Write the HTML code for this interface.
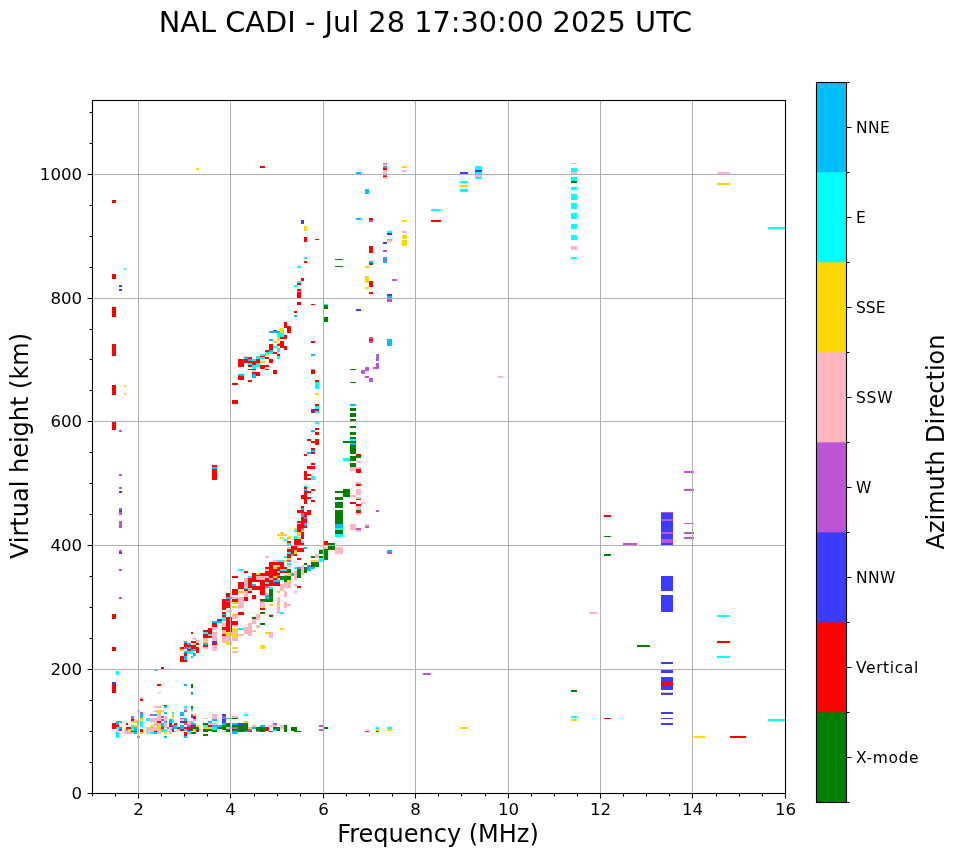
<!DOCTYPE html>
<html><head><meta charset="utf-8"><title>NAL CADI</title>
<style>html,body{margin:0;padding:0;background:#fff}</style></head>
<body>
<svg width="958" height="857" viewBox="0 0 958 857" style="display:block">
<rect width="958" height="857" fill="#fff"/>
<g id="pts">
<rect x="196" y="168" width="3" height="2" fill="#ffd700"/>
<rect x="260" y="166" width="5" height="2" fill="#ff0000"/>
<rect x="112" y="200" width="4" height="3" fill="#ff0000"/>
<rect x="124" y="268" width="2" height="2" fill="#00ffff"/>
<rect x="112" y="274" width="4" height="5" fill="#ff0000"/>
<rect x="119" y="285" width="3" height="2" fill="#3c3cff"/>
<rect x="119" y="289" width="3" height="2" fill="#3c3cff"/>
<rect x="112" y="307" width="4" height="10" fill="#ff0000"/>
<rect x="301" y="220" width="3" height="4" fill="#3c3cff"/>
<rect x="304" y="226" width="3" height="5" fill="#ffd700"/>
<rect x="304" y="237" width="3" height="5" fill="#ff0000"/>
<rect x="315" y="239" width="4" height="1" fill="#ff0000"/>
<rect x="304" y="257" width="3" height="2" fill="#00ffff"/>
<rect x="304" y="261" width="3" height="2" fill="#ff0000"/>
<rect x="297" y="266" width="4" height="2" fill="#00ffff"/>
<rect x="301" y="278" width="3" height="3" fill="#ff0000"/>
<rect x="297" y="281" width="4" height="2" fill="#00ffff"/>
<rect x="297" y="283" width="4" height="2" fill="#ff0000"/>
<rect x="294" y="285" width="3" height="2" fill="#00ffff"/>
<rect x="297" y="289" width="4" height="9" fill="#ff0000"/>
<rect x="297" y="291" width="4" height="1" fill="#00ffff"/>
<rect x="297" y="302" width="4" height="3" fill="#ff0000"/>
<rect x="311" y="304" width="4" height="1" fill="#ff0000"/>
<rect x="294" y="311" width="3" height="2" fill="#ff0000"/>
<rect x="324" y="304" width="4" height="1" fill="#00ffff"/>
<rect x="324" y="305" width="4" height="4" fill="#008000"/>
<rect x="356" y="172" width="5" height="2" fill="#00bfff"/>
<rect x="383" y="163" width="4" height="1" fill="#ba55d3"/>
<rect x="383" y="164" width="4" height="2" fill="#ffb6c1"/>
<rect x="383" y="166" width="4" height="2" fill="#00bfff"/>
<rect x="383" y="168" width="4" height="2" fill="#ff0000"/>
<rect x="383" y="170" width="4" height="5" fill="#ffb6c1"/>
<rect x="383" y="175" width="4" height="1" fill="#ba55d3"/>
<rect x="383" y="176" width="4" height="1" fill="#ff0000"/>
<rect x="383" y="177" width="4" height="2" fill="#ffb6c1"/>
<rect x="402" y="166" width="5" height="2" fill="#ffd700"/>
<rect x="402" y="170" width="5" height="2" fill="#ffb6c1"/>
<rect x="365" y="189" width="4" height="5" fill="#00bfff"/>
<rect x="356" y="218" width="5" height="2" fill="#00bfff"/>
<rect x="369" y="218" width="4" height="2" fill="#ff0000"/>
<rect x="369" y="220" width="4" height="2" fill="#ba55d3"/>
<rect x="402" y="220" width="5" height="2" fill="#ffd700"/>
<rect x="387" y="231" width="5" height="2" fill="#00ffff"/>
<rect x="387" y="233" width="5" height="2" fill="#3c3cff"/>
<rect x="387" y="239" width="5" height="1" fill="#00ffff"/>
<rect x="387" y="240" width="5" height="2" fill="#ffb6c1"/>
<rect x="383" y="242" width="4" height="2" fill="#3c3cff"/>
<rect x="402" y="231" width="5" height="2" fill="#ffb6c1"/>
<rect x="402" y="235" width="5" height="4" fill="#ffd700"/>
<rect x="402" y="240" width="5" height="6" fill="#ffd700"/>
<rect x="369" y="246" width="4" height="7" fill="#ff0000"/>
<rect x="383" y="250" width="4" height="2" fill="#ba55d3"/>
<rect x="383" y="257" width="4" height="2" fill="#00bfff"/>
<rect x="383" y="259" width="4" height="2" fill="#ba55d3"/>
<rect x="383" y="261" width="4" height="2" fill="#00bfff"/>
<rect x="369" y="261" width="4" height="2" fill="#00bfff"/>
<rect x="369" y="263" width="4" height="2" fill="#ff0000"/>
<rect x="365" y="266" width="4" height="2" fill="#ffd700"/>
<rect x="335" y="259" width="8" height="1" fill="#008000"/>
<rect x="335" y="266" width="8" height="1" fill="#008000"/>
<rect x="365" y="276" width="4" height="7" fill="#ffd700"/>
<rect x="369" y="281" width="4" height="6" fill="#ff0000"/>
<rect x="365" y="287" width="4" height="2" fill="#ffd700"/>
<rect x="369" y="292" width="4" height="2" fill="#ff0000"/>
<rect x="392" y="279" width="5" height="2" fill="#ba55d3"/>
<rect x="387" y="294" width="5" height="2" fill="#3c3cff"/>
<rect x="387" y="296" width="5" height="2" fill="#00bfff"/>
<rect x="387" y="298" width="5" height="4" fill="#ba55d3"/>
<rect x="356" y="309" width="5" height="2" fill="#3c3cff"/>
<rect x="431" y="209" width="10" height="2" fill="#00ffff"/>
<rect x="431" y="220" width="10" height="2" fill="#ff0000"/>
<rect x="460" y="172" width="8" height="2" fill="#3c3cff"/>
<rect x="460" y="181" width="8" height="2" fill="#00ffff"/>
<rect x="460" y="185" width="8" height="2" fill="#ffd700"/>
<rect x="460" y="189" width="8" height="3" fill="#00ffff"/>
<rect x="475" y="166" width="7" height="4" fill="#00ffff"/>
<rect x="475" y="170" width="7" height="2" fill="#3c3cff"/>
<rect x="475" y="172" width="7" height="2" fill="#00ffff"/>
<rect x="475" y="174" width="7" height="3" fill="#ffb6c1"/>
<rect x="475" y="177" width="7" height="2" fill="#00ffff"/>
<rect x="571" y="163" width="6" height="1" fill="#ffb6c1"/>
<rect x="571" y="168" width="6" height="4" fill="#00ffff"/>
<rect x="571" y="172" width="6" height="2" fill="#ffb6c1"/>
<rect x="571" y="177" width="6" height="4" fill="#00ffff"/>
<rect x="571" y="181" width="6" height="2" fill="#008000"/>
<rect x="571" y="187" width="6" height="3" fill="#00ffff"/>
<rect x="571" y="194" width="6" height="6" fill="#00ffff"/>
<rect x="571" y="203" width="6" height="6" fill="#00ffff"/>
<rect x="571" y="213" width="6" height="6" fill="#00ffff"/>
<rect x="571" y="224" width="6" height="5" fill="#00ffff"/>
<rect x="571" y="235" width="6" height="5" fill="#00ffff"/>
<rect x="571" y="246" width="6" height="4" fill="#ffb6c1"/>
<rect x="571" y="257" width="6" height="2" fill="#00ffff"/>
<rect x="717" y="172" width="13" height="2" fill="#ffb6c1"/>
<rect x="717" y="183" width="13" height="2" fill="#ffd700"/>
<rect x="768" y="227" width="17" height="2" fill="#00ffff"/>
<rect x="112" y="344" width="4" height="12" fill="#ff0000"/>
<rect x="112" y="385" width="4" height="10" fill="#ff0000"/>
<rect x="124" y="385" width="2" height="2" fill="#ffd700"/>
<rect x="124" y="393" width="2" height="2" fill="#ffd700"/>
<rect x="112" y="422" width="4" height="8" fill="#ff0000"/>
<rect x="119" y="430" width="3" height="2" fill="#ba55d3"/>
<rect x="119" y="474" width="3" height="2" fill="#ba55d3"/>
<rect x="119" y="487" width="3" height="2" fill="#ba55d3"/>
<rect x="119" y="491" width="3" height="2" fill="#3c3cff"/>
<rect x="119" y="508" width="3" height="2" fill="#ba55d3"/>
<rect x="119" y="510" width="3" height="2" fill="#3c3cff"/>
<rect x="119" y="512" width="3" height="3" fill="#ba55d3"/>
<rect x="119" y="521" width="3" height="2" fill="#ba55d3"/>
<rect x="119" y="523" width="3" height="5" fill="#ba55d3"/>
<rect x="212" y="465" width="5" height="15" fill="#ff0000"/>
<rect x="212" y="467" width="5" height="2" fill="#00bfff"/>
<rect x="294" y="311" width="3" height="2" fill="#ff0000"/>
<rect x="294" y="315" width="3" height="2" fill="#00bfff"/>
<rect x="324" y="317" width="4" height="5" fill="#008000"/>
<rect x="311" y="341" width="4" height="2" fill="#ff0000"/>
<rect x="311" y="354" width="4" height="2" fill="#00bfff"/>
<rect x="311" y="369" width="4" height="1" fill="#00bfff"/>
<rect x="311" y="370" width="4" height="4" fill="#ff0000"/>
<rect x="315" y="380" width="4" height="2" fill="#ff0000"/>
<rect x="315" y="382" width="4" height="7" fill="#00ffff"/>
<rect x="315" y="393" width="4" height="2" fill="#ffd700"/>
<rect x="315" y="404" width="4" height="2" fill="#ff0000"/>
<rect x="315" y="406" width="4" height="3" fill="#00ffff"/>
<rect x="315" y="409" width="4" height="2" fill="#ff0000"/>
<rect x="315" y="411" width="4" height="2" fill="#00ffff"/>
<rect x="311" y="409" width="4" height="2" fill="#3c3cff"/>
<rect x="311" y="411" width="4" height="2" fill="#ff0000"/>
<rect x="284" y="322" width="3" height="6" fill="#ff0000"/>
<rect x="287" y="326" width="4" height="7" fill="#ff0000"/>
<rect x="280" y="328" width="4" height="5" fill="#ffd700"/>
<rect x="273" y="330" width="4" height="1" fill="#3c3cff"/>
<rect x="269" y="331" width="11" height="2" fill="#00bfff"/>
<rect x="277" y="333" width="7" height="4" fill="#00ffff"/>
<rect x="284" y="335" width="3" height="4" fill="#ff0000"/>
<rect x="280" y="337" width="7" height="2" fill="#ff0000"/>
<rect x="277" y="337" width="3" height="4" fill="#ffd700"/>
<rect x="269" y="339" width="4" height="2" fill="#00bfff"/>
<rect x="273" y="341" width="4" height="2" fill="#ffd700"/>
<rect x="280" y="341" width="4" height="7" fill="#ff0000"/>
<rect x="277" y="343" width="3" height="1" fill="#00ffff"/>
<rect x="277" y="344" width="3" height="2" fill="#ff0000"/>
<rect x="269" y="344" width="4" height="6" fill="#ff0000"/>
<rect x="273" y="346" width="4" height="2" fill="#00ffff"/>
<rect x="284" y="346" width="3" height="4" fill="#ff0000"/>
<rect x="277" y="348" width="3" height="4" fill="#00ffff"/>
<rect x="265" y="350" width="4" height="2" fill="#ff0000"/>
<rect x="269" y="350" width="4" height="2" fill="#00bfff"/>
<rect x="265" y="352" width="8" height="2" fill="#00ffff"/>
<rect x="273" y="352" width="4" height="2" fill="#ff0000"/>
<rect x="260" y="354" width="5" height="2" fill="#00ffff"/>
<rect x="265" y="354" width="4" height="2" fill="#ffd700"/>
<rect x="277" y="354" width="3" height="2" fill="#ff0000"/>
<rect x="277" y="356" width="3" height="3" fill="#00ffff"/>
<rect x="244" y="356" width="4" height="1" fill="#ffb6c1"/>
<rect x="244" y="357" width="4" height="2" fill="#00bfff"/>
<rect x="248" y="357" width="4" height="2" fill="#ff0000"/>
<rect x="256" y="356" width="5" height="3" fill="#00ffff"/>
<rect x="260" y="356" width="5" height="1" fill="#ff0000"/>
<rect x="260" y="357" width="5" height="2" fill="#00ffff"/>
<rect x="265" y="357" width="4" height="2" fill="#ff0000"/>
<rect x="238" y="359" width="6" height="8" fill="#ff0000"/>
<rect x="244" y="359" width="16" height="4" fill="#ff0000"/>
<rect x="248" y="359" width="4" height="2" fill="#00bfff"/>
<rect x="252" y="359" width="4" height="2" fill="#00ffff"/>
<rect x="269" y="359" width="4" height="4" fill="#ff0000"/>
<rect x="260" y="361" width="5" height="2" fill="#ffd700"/>
<rect x="248" y="363" width="4" height="2" fill="#00ffff"/>
<rect x="252" y="361" width="4" height="4" fill="#ff0000"/>
<rect x="256" y="363" width="4" height="4" fill="#00ffff"/>
<rect x="248" y="365" width="4" height="2" fill="#ff0000"/>
<rect x="252" y="365" width="4" height="4" fill="#00ffff"/>
<rect x="260" y="365" width="9" height="2" fill="#ff0000"/>
<rect x="260" y="367" width="5" height="2" fill="#ff0000"/>
<rect x="248" y="369" width="8" height="1" fill="#ff0000"/>
<rect x="265" y="369" width="4" height="1" fill="#ff0000"/>
<rect x="252" y="370" width="4" height="2" fill="#ffb6c1"/>
<rect x="252" y="372" width="8" height="2" fill="#ff0000"/>
<rect x="256" y="374" width="4" height="2" fill="#ff0000"/>
<rect x="252" y="374" width="4" height="4" fill="#00bfff"/>
<rect x="273" y="370" width="4" height="4" fill="#ff0000"/>
<rect x="238" y="374" width="6" height="2" fill="#00bfff"/>
<rect x="238" y="376" width="6" height="4" fill="#ff0000"/>
<rect x="248" y="380" width="4" height="2" fill="#ff0000"/>
<rect x="232" y="383" width="6" height="2" fill="#ff0000"/>
<rect x="232" y="400" width="6" height="4" fill="#ff0000"/>
<rect x="315" y="422" width="4" height="2" fill="#00ffff"/>
<rect x="315" y="428" width="4" height="2" fill="#ff0000"/>
<rect x="311" y="430" width="4" height="2" fill="#00bfff"/>
<rect x="315" y="432" width="4" height="3" fill="#ff0000"/>
<rect x="307" y="439" width="4" height="2" fill="#ff0000"/>
<rect x="315" y="439" width="4" height="6" fill="#ff0000"/>
<rect x="311" y="441" width="4" height="2" fill="#ff0000"/>
<rect x="311" y="448" width="4" height="2" fill="#ff0000"/>
<rect x="311" y="450" width="4" height="2" fill="#00bfff"/>
<rect x="311" y="452" width="4" height="2" fill="#ff0000"/>
<rect x="307" y="452" width="4" height="2" fill="#00bfff"/>
<rect x="304" y="454" width="3" height="2" fill="#ff0000"/>
<rect x="311" y="463" width="4" height="2" fill="#ff0000"/>
<rect x="307" y="466" width="8" height="3" fill="#ff0000"/>
<rect x="304" y="471" width="3" height="9" fill="#ff0000"/>
<rect x="307" y="474" width="4" height="2" fill="#ff0000"/>
<rect x="307" y="478" width="4" height="2" fill="#ff0000"/>
<rect x="311" y="476" width="4" height="4" fill="#00ffff"/>
<rect x="304" y="486" width="3" height="1" fill="#00bfff"/>
<rect x="304" y="487" width="3" height="2" fill="#ff0000"/>
<rect x="304" y="489" width="3" height="2" fill="#00bfff"/>
<rect x="311" y="489" width="4" height="2" fill="#ff0000"/>
<rect x="304" y="491" width="7" height="2" fill="#ff0000"/>
<rect x="301" y="495" width="6" height="4" fill="#ff0000"/>
<rect x="304" y="493" width="3" height="11" fill="#ff0000"/>
<rect x="307" y="497" width="4" height="2" fill="#ff0000"/>
<rect x="311" y="500" width="4" height="2" fill="#ff0000"/>
<rect x="301" y="506" width="3" height="2" fill="#ff0000"/>
<rect x="301" y="508" width="3" height="2" fill="#00bfff"/>
<rect x="297" y="510" width="7" height="3" fill="#ff0000"/>
<rect x="307" y="510" width="4" height="5" fill="#ff0000"/>
<rect x="304" y="512" width="3" height="5" fill="#ff0000"/>
<rect x="301" y="513" width="3" height="2" fill="#ba55d3"/>
<rect x="301" y="515" width="3" height="2" fill="#00bfff"/>
<rect x="350" y="410" width="6" height="1" fill="#008000"/>
<rect x="350" y="413" width="6" height="4" fill="#008000"/>
<rect x="350" y="419" width="6" height="2" fill="#008000"/>
<rect x="350" y="426" width="6" height="2" fill="#008000"/>
<rect x="350" y="432" width="6" height="3" fill="#008000"/>
<rect x="350" y="437" width="6" height="2" fill="#008000"/>
<rect x="350" y="439" width="6" height="2" fill="#00ffff"/>
<rect x="343" y="441" width="13" height="2" fill="#008000"/>
<rect x="350" y="443" width="6" height="2" fill="#00bfff"/>
<rect x="350" y="445" width="6" height="9" fill="#008000"/>
<rect x="356" y="454" width="5" height="2" fill="#ff0000"/>
<rect x="356" y="456" width="5" height="2" fill="#008000"/>
<rect x="350" y="456" width="6" height="5" fill="#008000"/>
<rect x="343" y="458" width="7" height="3" fill="#00ffff"/>
<rect x="356" y="461" width="5" height="2" fill="#ffb6c1"/>
<rect x="350" y="463" width="6" height="4" fill="#008000"/>
<rect x="350" y="467" width="11" height="4" fill="#ffb6c1"/>
<rect x="356" y="469" width="5" height="4" fill="#ff0000"/>
<rect x="356" y="482" width="5" height="2" fill="#ffb6c1"/>
<rect x="356" y="484" width="5" height="2" fill="#ff0000"/>
<rect x="343" y="489" width="7" height="8" fill="#008000"/>
<rect x="335" y="491" width="8" height="2" fill="#008000"/>
<rect x="356" y="489" width="5" height="6" fill="#ffb6c1"/>
<rect x="350" y="495" width="6" height="2" fill="#ffb6c1"/>
<rect x="356" y="497" width="5" height="2" fill="#ffb6c1"/>
<rect x="356" y="499" width="5" height="1" fill="#008000"/>
<rect x="335" y="497" width="8" height="3" fill="#008000"/>
<rect x="335" y="502" width="8" height="6" fill="#008000"/>
<rect x="350" y="502" width="6" height="2" fill="#ff0000"/>
<rect x="356" y="504" width="5" height="2" fill="#ff0000"/>
<rect x="361" y="502" width="4" height="2" fill="#ffb6c1"/>
<rect x="356" y="506" width="5" height="4" fill="#ffb6c1"/>
<rect x="356" y="510" width="5" height="2" fill="#008000"/>
<rect x="356" y="512" width="5" height="1" fill="#ff0000"/>
<rect x="356" y="513" width="5" height="2" fill="#ffb6c1"/>
<rect x="335" y="510" width="8" height="7" fill="#008000"/>
<rect x="376" y="510" width="3" height="2" fill="#ba55d3"/>
<rect x="335" y="510" width="8" height="14" fill="#008000"/>
<rect x="335" y="524" width="8" height="4" fill="#00bfff"/>
<rect x="335" y="528" width="8" height="2" fill="#00ffff"/>
<rect x="335" y="530" width="8" height="4" fill="#008000"/>
<rect x="335" y="534" width="8" height="3" fill="#00ffff"/>
<rect x="350" y="524" width="6" height="6" fill="#ffb6c1"/>
<rect x="356" y="528" width="5" height="2" fill="#ba55d3"/>
<rect x="356" y="530" width="5" height="2" fill="#ffb6c1"/>
<rect x="365" y="524" width="4" height="2" fill="#ffb6c1"/>
<rect x="365" y="526" width="4" height="2" fill="#ba55d3"/>
<rect x="324" y="541" width="4" height="4" fill="#ff0000"/>
<rect x="328" y="543" width="7" height="7" fill="#008000"/>
<rect x="324" y="549" width="4" height="11" fill="#008000"/>
<rect x="324" y="547" width="4" height="2" fill="#ffb6c1"/>
<rect x="335" y="547" width="8" height="7" fill="#ffb6c1"/>
<rect x="319" y="549" width="4" height="1" fill="#ffb6c1"/>
<rect x="319" y="550" width="4" height="4" fill="#008000"/>
<rect x="315" y="554" width="4" height="4" fill="#ffb6c1"/>
<rect x="311" y="556" width="4" height="2" fill="#008000"/>
<rect x="319" y="556" width="4" height="2" fill="#008000"/>
<rect x="319" y="558" width="4" height="4" fill="#00ffff"/>
<rect x="311" y="560" width="4" height="2" fill="#ffd700"/>
<rect x="315" y="560" width="4" height="2" fill="#ffb6c1"/>
<rect x="311" y="562" width="8" height="5" fill="#008000"/>
<rect x="304" y="563" width="3" height="2" fill="#008000"/>
<rect x="307" y="565" width="4" height="2" fill="#ba55d3"/>
<rect x="307" y="567" width="8" height="2" fill="#00bfff"/>
<rect x="307" y="569" width="4" height="2" fill="#00bfff"/>
<rect x="301" y="565" width="3" height="10" fill="#ffb6c1"/>
<rect x="304" y="567" width="3" height="6" fill="#008000"/>
<rect x="294" y="567" width="3" height="2" fill="#00ffff"/>
<rect x="297" y="567" width="4" height="2" fill="#ba55d3"/>
<rect x="297" y="569" width="4" height="9" fill="#008000"/>
<rect x="294" y="571" width="3" height="9" fill="#ffb6c1"/>
<rect x="291" y="573" width="3" height="3" fill="#00bfff"/>
<rect x="287" y="569" width="4" height="4" fill="#008000"/>
<rect x="287" y="573" width="4" height="2" fill="#ffd700"/>
<rect x="287" y="575" width="4" height="3" fill="#ffb6c1"/>
<rect x="280" y="576" width="11" height="4" fill="#008000"/>
<rect x="284" y="580" width="3" height="2" fill="#008000"/>
<rect x="287" y="580" width="4" height="2" fill="#ffd700"/>
<rect x="280" y="584" width="4" height="7" fill="#ffb6c1"/>
<rect x="284" y="582" width="7" height="6" fill="#ffb6c1"/>
<rect x="294" y="584" width="3" height="2" fill="#ffb6c1"/>
<rect x="297" y="586" width="4" height="2" fill="#ff0000"/>
<rect x="294" y="591" width="3" height="2" fill="#ffb6c1"/>
<rect x="277" y="591" width="3" height="2" fill="#ffd700"/>
<rect x="284" y="591" width="3" height="6" fill="#ffb6c1"/>
<rect x="277" y="597" width="3" height="17" fill="#ffb6c1"/>
<rect x="277" y="604" width="3" height="2" fill="#ffd700"/>
<rect x="284" y="602" width="3" height="6" fill="#ffb6c1"/>
<rect x="287" y="604" width="4" height="2" fill="#ffb6c1"/>
<rect x="280" y="612" width="4" height="2" fill="#00ffff"/>
<rect x="269" y="604" width="4" height="2" fill="#ffd700"/>
<rect x="269" y="589" width="4" height="13" fill="#008000"/>
<rect x="265" y="599" width="4" height="3" fill="#008000"/>
<rect x="265" y="595" width="4" height="4" fill="#00bfff"/>
<rect x="265" y="593" width="4" height="2" fill="#ffb6c1"/>
<rect x="269" y="614" width="4" height="3" fill="#008000"/>
<rect x="297" y="510" width="7" height="3" fill="#ff0000"/>
<rect x="307" y="510" width="4" height="3" fill="#ff0000"/>
<rect x="304" y="513" width="7" height="2" fill="#ff0000"/>
<rect x="301" y="513" width="3" height="2" fill="#ba55d3"/>
<rect x="301" y="515" width="3" height="2" fill="#00bfff"/>
<rect x="301" y="517" width="3" height="11" fill="#ff0000"/>
<rect x="304" y="517" width="3" height="2" fill="#ba55d3"/>
<rect x="304" y="519" width="3" height="2" fill="#ff0000"/>
<rect x="297" y="521" width="4" height="2" fill="#ff0000"/>
<rect x="304" y="521" width="3" height="2" fill="#ff0000"/>
<rect x="304" y="523" width="3" height="3" fill="#00bfff"/>
<rect x="297" y="524" width="4" height="8" fill="#ff0000"/>
<rect x="304" y="526" width="3" height="2" fill="#ff0000"/>
<rect x="294" y="528" width="3" height="2" fill="#ffd700"/>
<rect x="294" y="530" width="3" height="2" fill="#00ffff"/>
<rect x="301" y="528" width="3" height="2" fill="#ba55d3"/>
<rect x="301" y="530" width="3" height="2" fill="#ffd700"/>
<rect x="297" y="532" width="4" height="4" fill="#ffd700"/>
<rect x="301" y="532" width="3" height="4" fill="#ff0000"/>
<rect x="301" y="536" width="3" height="1" fill="#3c3cff"/>
<rect x="294" y="536" width="3" height="3" fill="#00ffff"/>
<rect x="297" y="537" width="4" height="2" fill="#ffd700"/>
<rect x="301" y="537" width="3" height="2" fill="#ff0000"/>
<rect x="294" y="539" width="7" height="6" fill="#ff0000"/>
<rect x="301" y="541" width="3" height="2" fill="#00ffff"/>
<rect x="301" y="543" width="3" height="3" fill="#ff0000"/>
<rect x="280" y="532" width="4" height="2" fill="#ffd700"/>
<rect x="277" y="534" width="7" height="2" fill="#ffd700"/>
<rect x="284" y="534" width="3" height="2" fill="#ffb6c1"/>
<rect x="280" y="537" width="4" height="2" fill="#ffd700"/>
<rect x="287" y="536" width="4" height="3" fill="#ffd700"/>
<rect x="284" y="539" width="3" height="2" fill="#00ffff"/>
<rect x="287" y="541" width="4" height="2" fill="#ff0000"/>
<rect x="287" y="543" width="4" height="2" fill="#00ffff"/>
<rect x="287" y="547" width="4" height="2" fill="#ffb6c1"/>
<rect x="291" y="546" width="6" height="4" fill="#ff0000"/>
<rect x="287" y="549" width="7" height="3" fill="#ff0000"/>
<rect x="304" y="547" width="3" height="2" fill="#00bfff"/>
<rect x="297" y="548" width="7" height="4" fill="#ff0000"/>
<rect x="294" y="550" width="3" height="2" fill="#ffb6c1"/>
<rect x="294" y="552" width="3" height="2" fill="#ffd700"/>
<rect x="287" y="552" width="4" height="2" fill="#00ffff"/>
<rect x="291" y="552" width="3" height="4" fill="#ff0000"/>
<rect x="291" y="554" width="3" height="2" fill="#00bfff"/>
<rect x="294" y="554" width="3" height="2" fill="#ff0000"/>
<rect x="284" y="556" width="3" height="2" fill="#00ffff"/>
<rect x="287" y="554" width="4" height="6" fill="#ff0000"/>
<rect x="297" y="558" width="4" height="2" fill="#ff0000"/>
<rect x="265" y="556" width="4" height="2" fill="#ffb6c1"/>
<rect x="287" y="558" width="4" height="2" fill="#ffd700"/>
<rect x="287" y="560" width="4" height="2" fill="#ba55d3"/>
<rect x="273" y="560" width="4" height="2" fill="#ffb6c1"/>
<rect x="277" y="560" width="7" height="3" fill="#00ffff"/>
<rect x="284" y="560" width="3" height="2" fill="#ffd700"/>
<rect x="294" y="562" width="3" height="1" fill="#ffb6c1"/>
<rect x="287" y="563" width="4" height="2" fill="#00ffff"/>
<rect x="287" y="565" width="4" height="2" fill="#ffb6c1"/>
<rect x="269" y="562" width="15" height="8" fill="#ff0000"/>
<rect x="265" y="567" width="22" height="6" fill="#ff0000"/>
<rect x="265" y="573" width="15" height="13" fill="#ff0000"/>
<rect x="273" y="565" width="4" height="2" fill="#ffb6c1"/>
<rect x="273" y="567" width="4" height="2" fill="#ffd700"/>
<rect x="277" y="565" width="3" height="2" fill="#ffd700"/>
<rect x="280" y="569" width="7" height="2" fill="#00ffff"/>
<rect x="277" y="571" width="3" height="2" fill="#ffb6c1"/>
<rect x="265" y="569" width="4" height="2" fill="#ffb6c1"/>
<rect x="280" y="571" width="7" height="2" fill="#ff0000"/>
<rect x="277" y="575" width="3" height="1" fill="#00bfff"/>
<rect x="284" y="575" width="3" height="1" fill="#00ffff"/>
<rect x="265" y="576" width="4" height="2" fill="#ffb6c1"/>
<rect x="273" y="576" width="4" height="2" fill="#ffd700"/>
<rect x="269" y="578" width="4" height="2" fill="#ffb6c1"/>
<rect x="277" y="578" width="3" height="2" fill="#ffb6c1"/>
<rect x="273" y="580" width="7" height="2" fill="#00bfff"/>
<rect x="265" y="582" width="4" height="2" fill="#00ffff"/>
<rect x="273" y="582" width="4" height="2" fill="#3c3cff"/>
<rect x="277" y="582" width="3" height="2" fill="#008000"/>
<rect x="265" y="586" width="4" height="2" fill="#ba55d3"/>
<rect x="269" y="587" width="4" height="2" fill="#00ffff"/>
<rect x="238" y="569" width="6" height="2" fill="#00ffff"/>
<rect x="244" y="571" width="4" height="2" fill="#ff0000"/>
<rect x="232" y="576" width="6" height="2" fill="#ff0000"/>
<rect x="248" y="576" width="4" height="2" fill="#00ffff"/>
<rect x="252" y="573" width="13" height="17" fill="#ff0000"/>
<rect x="252" y="582" width="8" height="4" fill="#ffffff"/>
<rect x="256" y="573" width="4" height="2" fill="#ffd700"/>
<rect x="256" y="576" width="9" height="4" fill="#ffb6c1"/>
<rect x="248" y="578" width="4" height="10" fill="#ff0000"/>
<rect x="252" y="584" width="4" height="2" fill="#00bfff"/>
<rect x="244" y="578" width="4" height="10" fill="#ffb6c1"/>
<rect x="238" y="582" width="6" height="7" fill="#ff0000"/>
<rect x="244" y="588" width="4" height="1" fill="#00ffff"/>
<rect x="244" y="589" width="4" height="2" fill="#ff0000"/>
<rect x="248" y="588" width="4" height="3" fill="#ffb6c1"/>
<rect x="232" y="589" width="6" height="6" fill="#ff0000"/>
<rect x="238" y="591" width="6" height="2" fill="#ffd700"/>
<rect x="248" y="591" width="4" height="2" fill="#ff0000"/>
<rect x="244" y="591" width="4" height="6" fill="#ffb6c1"/>
<rect x="252" y="590" width="8" height="5" fill="#ffffff"/>
<rect x="260" y="589" width="5" height="6" fill="#ff0000"/>
<rect x="252" y="595" width="4" height="4" fill="#ff0000"/>
<rect x="226" y="593" width="5" height="5" fill="#ff0000"/>
<rect x="226" y="597" width="6" height="2" fill="#00bfff"/>
<rect x="244" y="597" width="4" height="4" fill="#ff0000"/>
<rect x="232" y="597" width="12" height="11" fill="#ffb6c1"/>
<rect x="232" y="599" width="6" height="3" fill="#ff0000"/>
<rect x="232" y="602" width="6" height="2" fill="#ffd700"/>
<rect x="232" y="604" width="6" height="2" fill="#ffffff"/>
<rect x="232" y="606" width="6" height="2" fill="#ffd700"/>
<rect x="222" y="599" width="9" height="9" fill="#ff0000"/>
<rect x="226" y="601" width="6" height="1" fill="#00bfff"/>
<rect x="260" y="599" width="5" height="2" fill="#008000"/>
<rect x="260" y="601" width="5" height="1" fill="#ba55d3"/>
<rect x="260" y="602" width="5" height="6" fill="#ffb6c1"/>
<rect x="222" y="608" width="4" height="2" fill="#ff0000"/>
<rect x="260" y="608" width="5" height="2" fill="#ff0000"/>
<rect x="226" y="610" width="6" height="2" fill="#ffb6c1"/>
<rect x="222" y="612" width="4" height="5" fill="#ff0000"/>
<rect x="222" y="614" width="4" height="1" fill="#00bfff"/>
<rect x="238" y="612" width="6" height="3" fill="#ff0000"/>
<rect x="232" y="614" width="6" height="1" fill="#ffd700"/>
<rect x="232" y="615" width="6" height="2" fill="#ffb6c1"/>
<rect x="260" y="612" width="5" height="2" fill="#008000"/>
<rect x="256" y="614" width="4" height="3" fill="#ffb6c1"/>
<rect x="222" y="612" width="4" height="5" fill="#ff0000"/>
<rect x="222" y="614" width="4" height="1" fill="#00bfff"/>
<rect x="222" y="617" width="4" height="4" fill="#00ffff"/>
<rect x="217" y="619" width="5" height="2" fill="#3c3cff"/>
<rect x="212" y="621" width="10" height="2" fill="#00bfff"/>
<rect x="226" y="617" width="6" height="16" fill="#ff0000"/>
<rect x="226" y="610" width="5" height="2" fill="#ffb6c1"/>
<rect x="232" y="621" width="6" height="4" fill="#ff0000"/>
<rect x="232" y="615" width="6" height="4" fill="#ffb6c1"/>
<rect x="232" y="614" width="6" height="1" fill="#ffd700"/>
<rect x="232" y="625" width="6" height="2" fill="#ffb6c1"/>
<rect x="238" y="612" width="6" height="3" fill="#ff0000"/>
<rect x="212" y="623" width="5" height="4" fill="#ff0000"/>
<rect x="212" y="627" width="5" height="3" fill="#ffb6c1"/>
<rect x="222" y="623" width="4" height="4" fill="#ffb6c1"/>
<rect x="222" y="627" width="4" height="3" fill="#ff0000"/>
<rect x="222" y="630" width="4" height="4" fill="#ffb6c1"/>
<rect x="222" y="634" width="4" height="2" fill="#ff0000"/>
<rect x="226" y="632" width="6" height="4" fill="#ffd700"/>
<rect x="232" y="628" width="6" height="4" fill="#ffd700"/>
<rect x="238" y="628" width="6" height="2" fill="#00ffff"/>
<rect x="232" y="632" width="6" height="2" fill="#ffb6c1"/>
<rect x="232" y="634" width="6" height="4" fill="#ffd700"/>
<rect x="238" y="634" width="6" height="2" fill="#ffb6c1"/>
<rect x="232" y="638" width="6" height="3" fill="#ffb6c1"/>
<rect x="222" y="636" width="9" height="7" fill="#ffb6c1"/>
<rect x="226" y="641" width="6" height="4" fill="#ffd700"/>
<rect x="232" y="647" width="6" height="2" fill="#ffd700"/>
<rect x="232" y="651" width="6" height="2" fill="#ffb6c1"/>
<rect x="244" y="627" width="8" height="7" fill="#ffb6c1"/>
<rect x="248" y="623" width="4" height="5" fill="#ffb6c1"/>
<rect x="252" y="619" width="4" height="5" fill="#ffb6c1"/>
<rect x="256" y="614" width="4" height="6" fill="#ffb6c1"/>
<rect x="256" y="625" width="4" height="3" fill="#ffb6c1"/>
<rect x="252" y="630" width="4" height="2" fill="#ffb6c1"/>
<rect x="248" y="634" width="4" height="2" fill="#ffb6c1"/>
<rect x="252" y="617" width="4" height="2" fill="#008000"/>
<rect x="260" y="612" width="5" height="2" fill="#008000"/>
<rect x="260" y="623" width="5" height="2" fill="#008000"/>
<rect x="260" y="645" width="5" height="4" fill="#ffd700"/>
<rect x="208" y="628" width="4" height="6" fill="#ff0000"/>
<rect x="203" y="630" width="5" height="2" fill="#ff0000"/>
<rect x="203" y="632" width="5" height="2" fill="#00ffff"/>
<rect x="203" y="634" width="9" height="4" fill="#ff0000"/>
<rect x="208" y="634" width="4" height="2" fill="#00ffff"/>
<rect x="212" y="632" width="5" height="9" fill="#ffb6c1"/>
<rect x="212" y="641" width="5" height="2" fill="#3c3cff"/>
<rect x="212" y="643" width="5" height="2" fill="#ff0000"/>
<rect x="212" y="645" width="5" height="6" fill="#ffb6c1"/>
<rect x="203" y="638" width="5" height="3" fill="#ffb6c1"/>
<rect x="203" y="641" width="5" height="2" fill="#ffd700"/>
<rect x="203" y="643" width="5" height="2" fill="#00bfff"/>
<rect x="203" y="645" width="5" height="2" fill="#ff0000"/>
<rect x="203" y="647" width="5" height="2" fill="#ffb6c1"/>
<rect x="191" y="632" width="2" height="2" fill="#ff0000"/>
<rect x="193" y="638" width="3" height="2" fill="#ffb6c1"/>
<rect x="196" y="640" width="3" height="3" fill="#ffb6c1"/>
<rect x="191" y="641" width="5" height="2" fill="#ff0000"/>
<rect x="193" y="643" width="3" height="2" fill="#ffd700"/>
<rect x="196" y="643" width="3" height="2" fill="#ff0000"/>
<rect x="184" y="641" width="3" height="2" fill="#00bfff"/>
<rect x="184" y="643" width="7" height="4" fill="#ff0000"/>
<rect x="187" y="643" width="4" height="2" fill="#00bfff"/>
<rect x="180" y="647" width="4" height="2" fill="#ff0000"/>
<rect x="184" y="647" width="3" height="2" fill="#ba55d3"/>
<rect x="187" y="647" width="4" height="2" fill="#00bfff"/>
<rect x="191" y="645" width="5" height="6" fill="#ff0000"/>
<rect x="180" y="649" width="4" height="2" fill="#ffd700"/>
<rect x="187" y="649" width="4" height="2" fill="#ff0000"/>
<rect x="191" y="649" width="5" height="2" fill="#00bfff"/>
<rect x="196" y="647" width="3" height="6" fill="#ff0000"/>
<rect x="184" y="651" width="3" height="2" fill="#00bfff"/>
<rect x="187" y="651" width="6" height="3" fill="#00ffff"/>
<rect x="193" y="653" width="3" height="3" fill="#00bfff"/>
<rect x="184" y="653" width="3" height="3" fill="#ff0000"/>
<rect x="180" y="656" width="7" height="6" fill="#ff0000"/>
<rect x="184" y="656" width="3" height="4" fill="#00bfff"/>
<rect x="191" y="656" width="2" height="2" fill="#00bfff"/>
<rect x="161" y="667" width="3" height="2" fill="#ff0000"/>
<rect x="154" y="670" width="3" height="1" fill="#00bfff"/>
<rect x="157" y="684" width="4" height="2" fill="#ff0000"/>
<rect x="184" y="684" width="3" height="2" fill="#00bfff"/>
<rect x="191" y="684" width="2" height="4" fill="#008000"/>
<rect x="157" y="692" width="4" height="1" fill="#ffb6c1"/>
<rect x="191" y="692" width="2" height="1" fill="#008000"/>
<rect x="191" y="693" width="2" height="2" fill="#00bfff"/>
<rect x="269" y="614" width="4" height="1" fill="#ffb6c1"/>
<rect x="269" y="615" width="4" height="2" fill="#008000"/>
<rect x="280" y="628" width="4" height="2" fill="#ffd700"/>
<rect x="265" y="632" width="4" height="2" fill="#ffd700"/>
<rect x="269" y="632" width="4" height="6" fill="#ffb6c1"/>
<rect x="280" y="612" width="4" height="2" fill="#00ffff"/>
<rect x="277" y="610" width="3" height="4" fill="#ffb6c1"/>
<rect x="116" y="671" width="3" height="4" fill="#00ffff"/>
<rect x="112" y="682" width="4" height="2" fill="#3c3cff"/>
<rect x="112" y="684" width="4" height="9" fill="#ff0000"/>
<rect x="140" y="697" width="3" height="2" fill="#ffb6c1"/>
<rect x="140" y="699" width="3" height="2" fill="#ff0000"/>
<rect x="161" y="705" width="3" height="1" fill="#ffd700"/>
<rect x="164" y="705" width="3" height="1" fill="#ff0000"/>
<rect x="154" y="706" width="7" height="2" fill="#ffb6c1"/>
<rect x="164" y="706" width="3" height="2" fill="#00bfff"/>
<rect x="184" y="706" width="3" height="2" fill="#00ffff"/>
<rect x="191" y="706" width="2" height="2" fill="#008000"/>
<rect x="137" y="710" width="3" height="2" fill="#ffb6c1"/>
<rect x="157" y="710" width="4" height="4" fill="#ffd700"/>
<rect x="154" y="710" width="3" height="2" fill="#ffb6c1"/>
<rect x="161" y="710" width="3" height="2" fill="#ffb6c1"/>
<rect x="184" y="708" width="3" height="2" fill="#ffb6c1"/>
<rect x="184" y="710" width="3" height="2" fill="#ba55d3"/>
<rect x="191" y="708" width="2" height="2" fill="#00bfff"/>
<rect x="191" y="710" width="2" height="2" fill="#ffb6c1"/>
<rect x="140" y="712" width="3" height="2" fill="#ba55d3"/>
<rect x="140" y="714" width="3" height="4" fill="#00bfff"/>
<rect x="140" y="718" width="3" height="3" fill="#ffd700"/>
<rect x="140" y="721" width="3" height="6" fill="#00ffff"/>
<rect x="140" y="729" width="3" height="3" fill="#ff0000"/>
<rect x="140" y="732" width="3" height="2" fill="#ffd700"/>
<rect x="164" y="712" width="3" height="2" fill="#00bfff"/>
<rect x="172" y="712" width="2" height="2" fill="#00ffff"/>
<rect x="172" y="714" width="2" height="4" fill="#ffd700"/>
<rect x="180" y="712" width="4" height="4" fill="#00bfff"/>
<rect x="150" y="714" width="4" height="2" fill="#ba55d3"/>
<rect x="154" y="714" width="3" height="2" fill="#00bfff"/>
<rect x="191" y="714" width="2" height="2" fill="#ba55d3"/>
<rect x="191" y="716" width="2" height="2" fill="#3c3cff"/>
<rect x="193" y="714" width="3" height="2" fill="#ffd700"/>
<rect x="193" y="716" width="3" height="3" fill="#ff0000"/>
<rect x="193" y="719" width="3" height="2" fill="#ffb6c1"/>
<rect x="131" y="716" width="3" height="3" fill="#ba55d3"/>
<rect x="131" y="719" width="3" height="2" fill="#ff0000"/>
<rect x="134" y="719" width="3" height="2" fill="#ffb6c1"/>
<rect x="131" y="721" width="6" height="2" fill="#ffd700"/>
<rect x="157" y="714" width="4" height="7" fill="#ffb6c1"/>
<rect x="150" y="718" width="11" height="4" fill="#ffb6c1"/>
<rect x="154" y="722" width="7" height="4" fill="#ffb6c1"/>
<rect x="146" y="727" width="15" height="7" fill="#ffb6c1"/>
<rect x="164" y="716" width="3" height="12" fill="#ffb6c1"/>
<rect x="146" y="718" width="4" height="3" fill="#00ffff"/>
<rect x="161" y="716" width="3" height="2" fill="#ba55d3"/>
<rect x="161" y="719" width="3" height="2" fill="#ba55d3"/>
<rect x="157" y="721" width="4" height="2" fill="#ff0000"/>
<rect x="164" y="721" width="3" height="2" fill="#00bfff"/>
<rect x="150" y="725" width="4" height="2" fill="#ffd700"/>
<rect x="157" y="725" width="4" height="4" fill="#ffd700"/>
<rect x="161" y="723" width="3" height="4" fill="#00bfff"/>
<rect x="161" y="727" width="3" height="2" fill="#ff0000"/>
<rect x="161" y="729" width="6" height="3" fill="#00ffff"/>
<rect x="167" y="727" width="2" height="2" fill="#00bfff"/>
<rect x="150" y="732" width="4" height="2" fill="#00ffff"/>
<rect x="154" y="732" width="3" height="2" fill="#00bfff"/>
<rect x="154" y="731" width="3" height="1" fill="#ff0000"/>
<rect x="164" y="732" width="3" height="2" fill="#ffd700"/>
<rect x="164" y="736" width="3" height="2" fill="#00bfff"/>
<rect x="169" y="719" width="3" height="4" fill="#00bfff"/>
<rect x="172" y="719" width="2" height="4" fill="#00ffff"/>
<rect x="169" y="723" width="3" height="4" fill="#ff0000"/>
<rect x="169" y="727" width="3" height="7" fill="#ffb6c1"/>
<rect x="172" y="725" width="2" height="4" fill="#ba55d3"/>
<rect x="172" y="729" width="2" height="3" fill="#ff0000"/>
<rect x="174" y="723" width="3" height="2" fill="#ff0000"/>
<rect x="174" y="725" width="3" height="4" fill="#00bfff"/>
<rect x="174" y="731" width="3" height="1" fill="#ffd700"/>
<rect x="177" y="727" width="3" height="2" fill="#ff0000"/>
<rect x="177" y="729" width="3" height="2" fill="#ffb6c1"/>
<rect x="180" y="718" width="4" height="1" fill="#ba55d3"/>
<rect x="180" y="719" width="4" height="2" fill="#ffb6c1"/>
<rect x="180" y="721" width="4" height="2" fill="#3c3cff"/>
<rect x="180" y="725" width="4" height="4" fill="#00bfff"/>
<rect x="180" y="729" width="4" height="2" fill="#ff0000"/>
<rect x="184" y="718" width="3" height="3" fill="#00bfff"/>
<rect x="184" y="721" width="3" height="2" fill="#ff0000"/>
<rect x="184" y="723" width="3" height="2" fill="#ba55d3"/>
<rect x="184" y="727" width="7" height="2" fill="#ff0000"/>
<rect x="184" y="729" width="3" height="2" fill="#00ffff"/>
<rect x="184" y="732" width="3" height="4" fill="#ff0000"/>
<rect x="184" y="736" width="3" height="2" fill="#00bfff"/>
<rect x="187" y="721" width="4" height="4" fill="#ffb6c1"/>
<rect x="187" y="725" width="4" height="2" fill="#ba55d3"/>
<rect x="187" y="729" width="4" height="2" fill="#3c3cff"/>
<rect x="187" y="731" width="4" height="3" fill="#00ffff"/>
<rect x="191" y="721" width="2" height="2" fill="#00ffff"/>
<rect x="191" y="723" width="2" height="2" fill="#ba55d3"/>
<rect x="191" y="725" width="2" height="2" fill="#ff0000"/>
<rect x="191" y="727" width="2" height="4" fill="#008000"/>
<rect x="191" y="732" width="5" height="2" fill="#008000"/>
<rect x="193" y="723" width="3" height="2" fill="#00bfff"/>
<rect x="193" y="725" width="3" height="2" fill="#3c3cff"/>
<rect x="193" y="727" width="6" height="2" fill="#008000"/>
<rect x="193" y="729" width="3" height="3" fill="#ffd700"/>
<rect x="196" y="729" width="3" height="3" fill="#008000"/>
<rect x="196" y="725" width="3" height="2" fill="#ffd700"/>
<rect x="196" y="729" width="3" height="2" fill="#ff0000"/>
<rect x="203" y="718" width="5" height="1" fill="#ffb6c1"/>
<rect x="203" y="723" width="5" height="2" fill="#008000"/>
<rect x="203" y="725" width="5" height="2" fill="#00ffff"/>
<rect x="203" y="727" width="9" height="2" fill="#ffd700"/>
<rect x="203" y="729" width="9" height="2" fill="#008000"/>
<rect x="203" y="731" width="5" height="1" fill="#3c3cff"/>
<rect x="203" y="734" width="5" height="2" fill="#008000"/>
<rect x="208" y="721" width="4" height="2" fill="#00bfff"/>
<rect x="208" y="723" width="4" height="2" fill="#ffb6c1"/>
<rect x="208" y="725" width="4" height="2" fill="#ff0000"/>
<rect x="112" y="723" width="4" height="6" fill="#ff0000"/>
<rect x="116" y="721" width="6" height="2" fill="#00bfff"/>
<rect x="116" y="723" width="3" height="2" fill="#ba55d3"/>
<rect x="116" y="725" width="3" height="2" fill="#ff0000"/>
<rect x="116" y="727" width="3" height="2" fill="#00ffff"/>
<rect x="116" y="729" width="3" height="2" fill="#ffb6c1"/>
<rect x="116" y="731" width="3" height="1" fill="#ffd700"/>
<rect x="116" y="732" width="3" height="6" fill="#00ffff"/>
<rect x="119" y="727" width="3" height="2" fill="#00bfff"/>
<rect x="119" y="729" width="3" height="2" fill="#3c3cff"/>
<rect x="126" y="723" width="2" height="2" fill="#ff0000"/>
<rect x="126" y="727" width="5" height="2" fill="#ff0000"/>
<rect x="124" y="729" width="2" height="2" fill="#ffd700"/>
<rect x="126" y="729" width="2" height="2" fill="#00bfff"/>
<rect x="128" y="729" width="3" height="2" fill="#ffd700"/>
<rect x="131" y="725" width="3" height="6" fill="#00ffff"/>
<rect x="134" y="727" width="3" height="4" fill="#00bfff"/>
<rect x="134" y="725" width="3" height="2" fill="#ffd700"/>
<rect x="124" y="731" width="13" height="3" fill="#ffb6c1"/>
<rect x="131" y="731" width="6" height="1" fill="#ff0000"/>
<rect x="134" y="732" width="3" height="2" fill="#00bfff"/>
<rect x="137" y="721" width="2" height="2" fill="#00bfff"/>
<rect x="137" y="723" width="2" height="6" fill="#ffb6c1"/>
<rect x="137" y="736" width="3" height="2" fill="#00bfff"/>
<rect x="212" y="714" width="5" height="5" fill="#ffb6c1"/>
<rect x="212" y="719" width="5" height="2" fill="#00bfff"/>
<rect x="212" y="723" width="5" height="2" fill="#ffb6c1"/>
<rect x="212" y="725" width="10" height="2" fill="#00bfff"/>
<rect x="212" y="727" width="5" height="2" fill="#00ffff"/>
<rect x="217" y="727" width="5" height="2" fill="#008000"/>
<rect x="212" y="729" width="5" height="1" fill="#00ffff"/>
<rect x="212" y="730" width="5" height="2" fill="#008000"/>
<rect x="222" y="714" width="4" height="2" fill="#3c3cff"/>
<rect x="222" y="716" width="4" height="3" fill="#ba55d3"/>
<rect x="222" y="719" width="4" height="4" fill="#3c3cff"/>
<rect x="222" y="723" width="4" height="2" fill="#00bfff"/>
<rect x="226" y="718" width="6" height="1" fill="#00bfff"/>
<rect x="222" y="725" width="9" height="5" fill="#008000"/>
<rect x="226" y="723" width="5" height="9" fill="#008000"/>
<rect x="226" y="727" width="6" height="2" fill="#ffb6c1"/>
<rect x="222" y="731" width="4" height="1" fill="#ffb6c1"/>
<rect x="232" y="716" width="6" height="2" fill="#ffb6c1"/>
<rect x="232" y="718" width="6" height="1" fill="#008000"/>
<rect x="232" y="723" width="6" height="2" fill="#00bfff"/>
<rect x="232" y="725" width="6" height="2" fill="#008000"/>
<rect x="232" y="727" width="6" height="2" fill="#ba55d3"/>
<rect x="232" y="729" width="6" height="2" fill="#008000"/>
<rect x="232" y="731" width="6" height="3" fill="#00bfff"/>
<rect x="244" y="714" width="4" height="2" fill="#00ffff"/>
<rect x="238" y="723" width="6" height="2" fill="#3c3cff"/>
<rect x="238" y="725" width="10" height="6" fill="#008000"/>
<rect x="238" y="731" width="6" height="1" fill="#ff0000"/>
<rect x="244" y="721" width="4" height="2" fill="#ffd700"/>
<rect x="244" y="723" width="4" height="2" fill="#008000"/>
<rect x="244" y="731" width="4" height="1" fill="#00bfff"/>
<rect x="248" y="727" width="4" height="2" fill="#ffd700"/>
<rect x="248" y="729" width="4" height="2" fill="#ba55d3"/>
<rect x="248" y="731" width="4" height="1" fill="#008000"/>
<rect x="252" y="725" width="4" height="2" fill="#ffb6c1"/>
<rect x="252" y="727" width="4" height="2" fill="#00bfff"/>
<rect x="256" y="727" width="9" height="4" fill="#008000"/>
<rect x="260" y="725" width="5" height="2" fill="#00bfff"/>
<rect x="256" y="731" width="4" height="1" fill="#00bfff"/>
<rect x="260" y="731" width="5" height="1" fill="#ff0000"/>
<rect x="265" y="727" width="4" height="4" fill="#ff0000"/>
<rect x="269" y="725" width="4" height="2" fill="#ffb6c1"/>
<rect x="269" y="731" width="4" height="1" fill="#008000"/>
<rect x="273" y="723" width="4" height="2" fill="#ba55d3"/>
<rect x="273" y="725" width="4" height="2" fill="#ffb6c1"/>
<rect x="273" y="727" width="7" height="4" fill="#008000"/>
<rect x="273" y="729" width="4" height="2" fill="#00bfff"/>
<rect x="280" y="725" width="4" height="4" fill="#ffb6c1"/>
<rect x="284" y="725" width="3" height="7" fill="#008000"/>
<rect x="291" y="727" width="6" height="4" fill="#008000"/>
<rect x="294" y="731" width="7" height="1" fill="#008000"/>
<rect x="319" y="725" width="4" height="2" fill="#ba55d3"/>
<rect x="319" y="729" width="4" height="2" fill="#ba55d3"/>
<rect x="324" y="727" width="4" height="2" fill="#008000"/>
<rect x="423" y="673" width="8" height="2" fill="#ba55d3"/>
<rect x="365" y="729" width="4" height="1" fill="#ffb6c1"/>
<rect x="365" y="731" width="4" height="1" fill="#ff0000"/>
<rect x="376" y="727" width="3" height="2" fill="#00ffff"/>
<rect x="376" y="729" width="3" height="2" fill="#ffd700"/>
<rect x="376" y="731" width="3" height="1" fill="#008000"/>
<rect x="387" y="727" width="5" height="2" fill="#00ffff"/>
<rect x="387" y="729" width="5" height="2" fill="#ffd700"/>
<rect x="460" y="727" width="8" height="2" fill="#ffd700"/>
<rect x="589" y="612" width="8" height="2" fill="#ffb6c1"/>
<rect x="661" y="600" width="12" height="12" fill="#3c3cff"/>
<rect x="637" y="645" width="13" height="2" fill="#008000"/>
<rect x="661" y="662" width="12" height="2" fill="#3c3cff"/>
<rect x="661" y="670" width="12" height="3" fill="#3c3cff"/>
<rect x="661" y="677" width="12" height="13" fill="#3c3cff"/>
<rect x="661" y="682" width="12" height="4" fill="#ff0000"/>
<rect x="661" y="692" width="12" height="3" fill="#3c3cff"/>
<rect x="661" y="692" width="12" height="1" fill="#ffb6c1"/>
<rect x="661" y="712" width="12" height="2" fill="#3c3cff"/>
<rect x="661" y="718" width="12" height="1" fill="#3c3cff"/>
<rect x="661" y="723" width="12" height="2" fill="#3c3cff"/>
<rect x="717" y="615" width="13" height="2" fill="#00ffff"/>
<rect x="717" y="641" width="13" height="2" fill="#ff0000"/>
<rect x="717" y="656" width="13" height="2" fill="#00ffff"/>
<rect x="571" y="690" width="6" height="2" fill="#008000"/>
<rect x="571" y="716" width="6" height="2" fill="#00ffff"/>
<rect x="571" y="719" width="6" height="2" fill="#ffd700"/>
<rect x="604" y="718" width="7" height="1" fill="#ff0000"/>
<rect x="694" y="736" width="11" height="2" fill="#ffd700"/>
<rect x="730" y="736" width="16" height="2" fill="#ff0000"/>
<rect x="768" y="719" width="17" height="2" fill="#00ffff"/>
<rect x="684" y="471" width="10" height="2" fill="#ba55d3"/>
<rect x="684" y="489" width="10" height="2" fill="#ba55d3"/>
<rect x="684" y="523" width="10" height="1" fill="#ba55d3"/>
<rect x="684" y="532" width="10" height="2" fill="#ba55d3"/>
<rect x="684" y="537" width="10" height="2" fill="#ba55d3"/>
<rect x="604" y="515" width="7" height="2" fill="#ff0000"/>
<rect x="604" y="536" width="7" height="1" fill="#008000"/>
<rect x="604" y="554" width="7" height="2" fill="#008000"/>
<rect x="623" y="543" width="14" height="2" fill="#ba55d3"/>
<rect x="661" y="512" width="12" height="33" fill="#3c3cff"/>
<rect x="661" y="512" width="12" height="1" fill="#ba55d3"/>
<rect x="661" y="519" width="12" height="2" fill="#ba55d3"/>
<rect x="661" y="532" width="12" height="2" fill="#ba55d3"/>
<rect x="661" y="539" width="12" height="4" fill="#ba55d3"/>
<rect x="661" y="576" width="12" height="15" fill="#3c3cff"/>
<rect x="661" y="595" width="12" height="10" fill="#3c3cff"/>
<rect x="369" y="337" width="4" height="2" fill="#ba55d3"/>
<rect x="369" y="339" width="4" height="2" fill="#ff0000"/>
<rect x="369" y="341" width="4" height="2" fill="#ba55d3"/>
<rect x="387" y="339" width="5" height="7" fill="#00bfff"/>
<rect x="376" y="354" width="3" height="2" fill="#ba55d3"/>
<rect x="376" y="356" width="3" height="1" fill="#00bfff"/>
<rect x="376" y="357" width="3" height="4" fill="#ba55d3"/>
<rect x="376" y="363" width="3" height="6" fill="#ba55d3"/>
<rect x="373" y="367" width="3" height="2" fill="#ba55d3"/>
<rect x="365" y="367" width="4" height="4" fill="#ba55d3"/>
<rect x="361" y="370" width="4" height="4" fill="#ba55d3"/>
<rect x="365" y="376" width="4" height="2" fill="#ba55d3"/>
<rect x="369" y="378" width="4" height="4" fill="#ba55d3"/>
<rect x="350" y="369" width="6" height="1" fill="#008000"/>
<rect x="350" y="382" width="6" height="1" fill="#008000"/>
<rect x="498" y="376" width="5" height="2" fill="#ffb6c1"/>
<rect x="350" y="404" width="6" height="2" fill="#00bfff"/>
<rect x="350" y="408" width="6" height="3" fill="#008000"/>
<rect x="387" y="550" width="5" height="2" fill="#00bfff"/>
<rect x="387" y="552" width="5" height="2" fill="#ba55d3"/>
<rect x="119" y="550" width="3" height="2" fill="#ba55d3"/>
<rect x="119" y="552" width="3" height="2" fill="#3c3cff"/>
<rect x="119" y="569" width="3" height="2" fill="#ba55d3"/>
<rect x="119" y="597" width="3" height="2" fill="#ba55d3"/>
<rect x="112" y="614" width="4" height="5" fill="#ff0000"/>
<rect x="112" y="647" width="4" height="4" fill="#ff0000"/>
</g>
<path d="M138.5 100.5V793.5M230.5 100.5V793.5M323.5 100.5V793.5M415.5 100.5V793.5M508.5 100.5V793.5M600.5 100.5V793.5M692.5 100.5V793.5M785.5 100.5V793.5M92.5 793.5H785.5M92.5 669.5H785.5M92.5 545.5H785.5M92.5 421.5H785.5M92.5 298.5H785.5M92.5 174.5H785.5" stroke="#b0b0b0" stroke-width="1" fill="none"/>
<rect x="92.5" y="100.5" width="693.0" height="693.0" fill="none" stroke="#000" stroke-width="1.1"/>
<path d="M138.5 793.5v5M230.5 793.5v5M323.5 793.5v5M415.5 793.5v5M508.5 793.5v5M600.5 793.5v5M692.5 793.5v5M785.5 793.5v5M92.5 793.5v3M115.5 793.5v3M161.5 793.5v3M184.5 793.5v3M207.5 793.5v3M254.5 793.5v3M277.5 793.5v3M300.5 793.5v3M346.5 793.5v3M369.5 793.5v3M392.5 793.5v3M438.5 793.5v3M461.5 793.5v3M485.5 793.5v3M531.5 793.5v3M554.5 793.5v3M577.5 793.5v3M623.5 793.5v3M646.5 793.5v3M669.5 793.5v3M716.5 793.5v3M739.5 793.5v3M762.5 793.5v3M92.5 793.5h-5M92.5 669.5h-5M92.5 545.5h-5M92.5 421.5h-5M92.5 298.5h-5M92.5 174.5h-5M92.5 762.5h-3M92.5 731.5h-3M92.5 700.5h-3M92.5 638.5h-3M92.5 607.5h-3M92.5 576.5h-3M92.5 514.5h-3M92.5 483.5h-3M92.5 452.5h-3M92.5 390.5h-3M92.5 359.5h-3M92.5 329.5h-3M92.5 267.5h-3M92.5 236.5h-3M92.5 205.5h-3M92.5 143.5h-3M92.5 112.5h-3" stroke="#000" stroke-width="1.1" fill="none"/>
<text x="138.5" y="815.2" text-anchor="middle" font-size="16.67" font-family="DejaVu Sans, sans-serif">2</text>
<text x="230.5" y="815.2" text-anchor="middle" font-size="16.67" font-family="DejaVu Sans, sans-serif">4</text>
<text x="323.5" y="815.2" text-anchor="middle" font-size="16.67" font-family="DejaVu Sans, sans-serif">6</text>
<text x="415.5" y="815.2" text-anchor="middle" font-size="16.67" font-family="DejaVu Sans, sans-serif">8</text>
<text x="508.5" y="815.2" text-anchor="middle" font-size="16.67" font-family="DejaVu Sans, sans-serif">10</text>
<text x="600.5" y="815.2" text-anchor="middle" font-size="16.67" font-family="DejaVu Sans, sans-serif">12</text>
<text x="692.5" y="815.2" text-anchor="middle" font-size="16.67" font-family="DejaVu Sans, sans-serif">14</text>
<text x="785.5" y="815.2" text-anchor="middle" font-size="16.67" font-family="DejaVu Sans, sans-serif">16</text>
<text x="82.2" y="799.4" text-anchor="end" font-size="16.67" font-family="DejaVu Sans, sans-serif">0</text>
<text x="82.2" y="675.4" text-anchor="end" font-size="16.67" font-family="DejaVu Sans, sans-serif">200</text>
<text x="82.2" y="551.4" text-anchor="end" font-size="16.67" font-family="DejaVu Sans, sans-serif">400</text>
<text x="82.2" y="427.4" text-anchor="end" font-size="16.67" font-family="DejaVu Sans, sans-serif">600</text>
<text x="82.2" y="304.4" text-anchor="end" font-size="16.67" font-family="DejaVu Sans, sans-serif">800</text>
<text x="82.2" y="180.4" text-anchor="end" font-size="16.67" font-family="DejaVu Sans, sans-serif">1000</text>
<text x="438" y="842" text-anchor="middle" font-size="24" font-family="DejaVu Sans, sans-serif">Frequency (MHz)</text>
<text transform="translate(27.6,446) rotate(-90)" text-anchor="middle" font-size="24" font-family="DejaVu Sans, sans-serif">Virtual height (km)</text>
<text x="425.5" y="32" text-anchor="middle" font-size="28.8" font-family="DejaVu Sans, sans-serif">NAL CADI - Jul 28 17:30:00 2025 UTC</text>
<rect x="817" y="712.00" width="29" height="90.30" fill="#008000"/>
<rect x="817" y="622.00" width="29" height="90.30" fill="#ff0000"/>
<rect x="817" y="532.00" width="29" height="90.30" fill="#3c3cff"/>
<rect x="817" y="442.00" width="29" height="90.30" fill="#ba55d3"/>
<rect x="817" y="352.00" width="29" height="90.30" fill="#ffb6c1"/>
<rect x="817" y="262.00" width="29" height="90.30" fill="#ffd700"/>
<rect x="817" y="172.00" width="29" height="90.30" fill="#00ffff"/>
<rect x="817" y="82.00" width="29" height="90.30" fill="#00bfff"/>
<rect x="816.5" y="82.5" width="30" height="720" fill="none" stroke="#000" stroke-width="1.1"/>
<path d="M846.5 802.5h3M846.5 712.5h3M846.5 622.5h3M846.5 532.5h3M846.5 442.5h3M846.5 352.5h3M846.5 262.5h3M846.5 172.5h3M846.5 82.5h3M846.5 757.5h5M846.5 667.5h5M846.5 577.5h5M846.5 487.5h5M846.5 397.5h5M846.5 307.5h5M846.5 217.5h5M846.5 127.5h5" stroke="#000" stroke-width="1.1" fill="none"/>
<text x="856" y="762.8" font-size="15.5" textLength="62.6" font-family="DejaVu Sans, sans-serif">X-mode</text>
<text x="856" y="672.8" font-size="15.5" textLength="62.2" font-family="DejaVu Sans, sans-serif">Vertical</text>
<text x="856" y="582.8" font-size="15.5" textLength="39.3" font-family="DejaVu Sans, sans-serif">NNW</text>
<text x="856" y="492.8" font-size="15.5" font-family="DejaVu Sans, sans-serif">W</text>
<text x="856" y="402.8" font-size="15.5" textLength="36.5" font-family="DejaVu Sans, sans-serif">SSW</text>
<text x="856" y="312.8" font-size="15.5" font-family="DejaVu Sans, sans-serif">SSE</text>
<text x="856" y="222.8" font-size="15.5" font-family="DejaVu Sans, sans-serif">E</text>
<text x="856" y="132.8" font-size="15.5" textLength="33.7" font-family="DejaVu Sans, sans-serif">NNE</text>
<text transform="translate(944,442) rotate(-90)" text-anchor="middle" font-size="24" font-family="DejaVu Sans, sans-serif">Azimuth Direction</text>
</svg>
</body></html>
